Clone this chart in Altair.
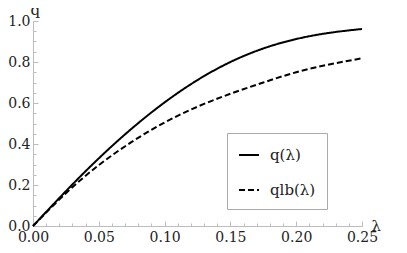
import altair as alt
import pandas as pd

lam = [0.0, 0.025, 0.05, 0.075, 0.1, 0.125, 0.15, 0.175, 0.2, 0.225, 0.25]
q_vals = [0.0, 0.17, 0.33, 0.475, 0.603, 0.712, 0.80, 0.866, 0.912, 0.942, 0.961]
qlb_vals = [0.0, 0.16, 0.297, 0.41, 0.505, 0.582, 0.645, 0.70, 0.75, 0.788, 0.818]
series_names = ["q(λ)", "qlb(λ)"]

x_major = [0.0, 0.05, 0.10, 0.15, 0.20, 0.25]
x_minor = [i / 100 for i in range(0, 26)]
y_major = [0.0, 0.2, 0.4, 0.6, 0.8, 1.0]
y_minor = [i / 20 for i in range(0, 21)]

rows = []
for name, vals in zip(series_names, [q_vals, qlb_vals]):
    for l, v in zip(lam, vals):
        rows.append({"lam": l, "q": v, "series": name})
df = pd.DataFrame(rows)

W, H = 329, 205
FONT = "DejaVu Serif"
GRAY = "#bdbdbd"
xs = alt.Scale(domain=[0, 0.25], nice=False, zero=False)
ys = alt.Scale(domain=[0, 1.0], nice=False, zero=False)

lines = alt.Chart(df).mark_line(strokeWidth=2, color="black", interpolate="natural").encode(
    x=alt.X("lam:Q", scale=xs, axis=alt.Axis(
        orient="bottom", values=x_major, format=".2f", ticks=False, grid=False,
        domainColor=GRAY, domainWidth=1, labelFont=FONT, labelFontSize=14,
        labelColor="#222", labelPadding=4, labelFlush=False, labelOverlap=False,
        title="λ", titleFont=FONT, titleFontSize=15, titleFontWeight="normal",
        titleColor="#222", titleX=338, titleY=4, titleAlign="left",
        titleBaseline="alphabetic", titleAngle=0)),
    y=alt.Y("q:Q", scale=ys, axis=alt.Axis(
        orient="left", values=y_major, format=".1f", ticks=False, grid=False,
        domainColor=GRAY, domainWidth=1, labelFont=FONT, labelFontSize=14,
        labelColor="#222", labelPadding=3, labelFlush=False, labelOverlap=False,
        title="q", titleFont=FONT, titleFontSize=15, titleFontWeight="normal",
        titleColor="#222", titleX=-3, titleY=-7, titleAlign="left",
        titleBaseline="alphabetic", titleAngle=0)),
    strokeDash=alt.StrokeDash("series:N", scale=alt.Scale(domain=series_names, range=[[1, 0], [6, 3]]),
                              legend=alt.Legend(
                                  title=None, orient="none", legendX=194, legendY=112,
                                  fillColor="white", strokeColor="#aaaaaa", padding=11,
                                  symbolType="stroke", symbolSize=400, symbolStrokeWidth=2,
                                  symbolStrokeColor="black", labelFont=FONT, labelFontSize=15,
                                  labelColor="#222", labelOffset=10, rowPadding=16)),
    detail="series:N",
)

def tick_layer(xvals, yvals, size):
    return alt.Chart(df).mark_line(strokeOpacity=0).encode(
        x=alt.X("lam:Q", scale=xs, axis=alt.Axis(
            orient="top", offset=-H, values=xvals, tickSize=size, tickColor=GRAY,
            labels=False, domain=False, grid=False, title=None)),
        y=alt.Y("q:Q", scale=ys, axis=alt.Axis(
            orient="right", offset=-W, values=yvals, tickSize=size, tickColor=GRAY,
            labels=False, domain=False, grid=False, title=None)),
        detail="series:N",
    )

chart = alt.layer(lines, tick_layer(x_major, y_major, 5), tick_layer(x_minor, y_minor, 3)).resolve_axis(
    x="independent", y="independent"
).properties(
    width=W, height=H,
    autosize=alt.AutoSizeParams(type="none"),
    padding={"left": 25, "top": 13, "right": 30, "bottom": 25},
).configure_view(stroke=None)

chart.save("out.html", embed_options={"renderer": "svg", "actions": False})
